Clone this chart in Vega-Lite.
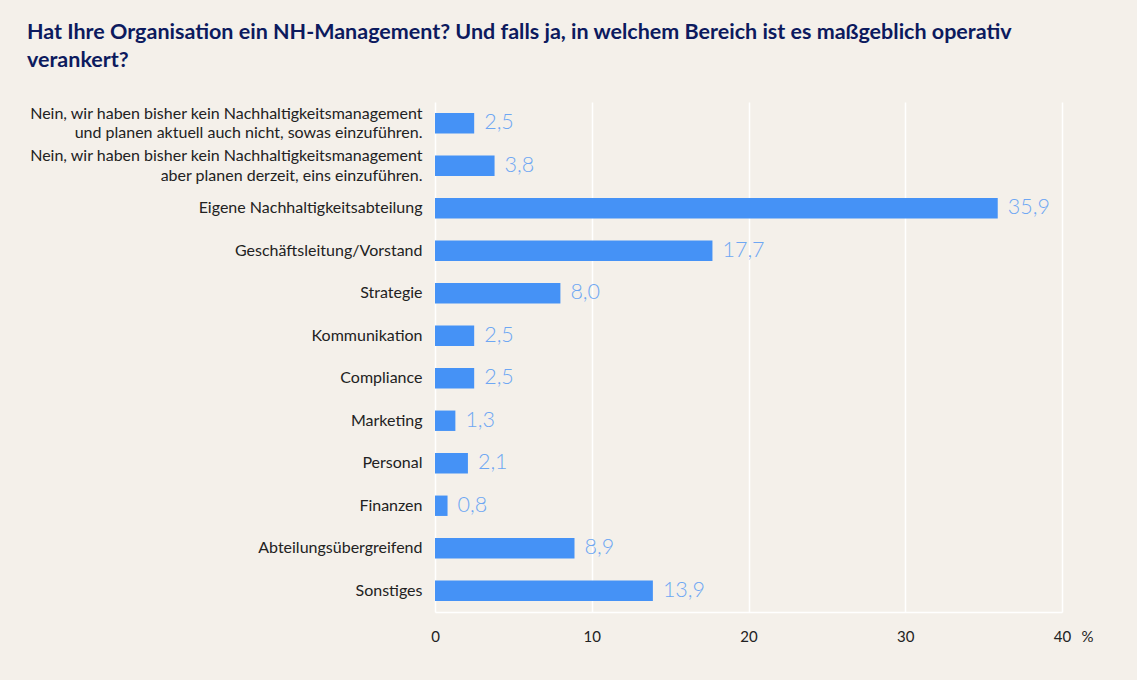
{
  "$schema": "https://vega.github.io/schema/vega-lite/v6.json",
  "autosize": "none",
  "width": 627,
  "height": 510,
  "padding": {"left": 435, "top": 102, "right": 75, "bottom": 68},
  "background": "#f4f0ea",
  "title": {
    "text": ["Hat Ihre Organisation ein NH-Management? Und falls ja, in welchem Bereich ist es maßgeblich operativ", "verankert?"],
    "anchor": "start",
    "frame": "group",
    "dx": -408,
    "offset": 31,
    "font": "Lato",
    "fontSize": 21.5,
    "fontWeight": "bold",
    "color": "#0c1a5e",
    "lineHeight": 28
  },
  "data": {
    "values": [
      {"kategorie": "Nein, wir haben bisher kein Nachhaltigkeitsmanagement|und planen aktuell auch nicht, sowas einzuführen.", "wert": 2.5},
      {"kategorie": "Nein, wir haben bisher kein Nachhaltigkeitsmanagement|aber planen derzeit, eins einzuführen.", "wert": 3.8},
      {"kategorie": "Eigene Nachhaltigkeitsabteilung", "wert": 35.9},
      {"kategorie": "Geschäftsleitung/Vorstand", "wert": 17.7},
      {"kategorie": "Strategie", "wert": 8.0},
      {"kategorie": "Kommunikation", "wert": 2.5},
      {"kategorie": "Compliance", "wert": 2.5},
      {"kategorie": "Marketing", "wert": 1.3},
      {"kategorie": "Personal", "wert": 2.1},
      {"kategorie": "Finanzen", "wert": 0.8},
      {"kategorie": "Abteilungsübergreifend", "wert": 8.9},
      {"kategorie": "Sonstiges", "wert": 13.9}
    ]
  },
  "transform": [
    {"calculate": "replace(format(datum.wert, '.1f'), '.', ',')", "as": "beschriftung"}
  ],
  "encoding": {
    "y": {
      "field": "kategorie",
      "type": "nominal",
      "sort": null,
      "scale": {"paddingInner": 0.52, "paddingOuter": 0.26},
      "axis": {
        "title": null,
        "labelExpr": "split(datum.value, '|')",
        "labelFont": "Lato",
        "labelFontSize": 16,
        "labelColor": "#222222",
        "labelLineHeight": 19.5,
        "labelOffset": {"condition": {"test": "indexof(datum.value, '|') >= 0", "value": -9.75}, "value": 0},
        "labelPadding": 13,
        "labelLimit": 500,
        "ticks": false,
        "domain": false,
        "grid": false
      }
    },
    "x": {
      "field": "wert",
      "type": "quantitative",
      "scale": {"domain": [0, 40]},
      "axis": {
        "values": [0, 10, 20, 30, 40],
        "labelFlush": false,
        "title": "%",
        "titleX": 652,
        "titleY": 24,
        "titleBaseline": "middle",
        "titleAlign": "center",
        "titleFont": "Lato",
        "titleFontSize": 15,
        "titleFontWeight": "normal",
        "titleColor": "#222222",
        "labelFont": "Lato",
        "labelFontSize": 15,
        "labelColor": "#222222",
        "labelPadding": 17,
        "ticks": false,
        "domain": true,
        "domainColor": "#ffffff",
        "domainWidth": 1.5,
        "grid": true,
        "gridColor": "#ffffff",
        "gridWidth": 1.5,
        "gridOpacity": 1
      }
    }
  },
  "layer": [
    {"mark": {"type": "bar", "color": "#4592f6"}},
    {
      "mark": {"type": "text", "align": "left", "baseline": "middle", "dx": 10, "font": "Lato", "fontSize": 21.5, "fontWeight": 300, "color": "#6ea7f3"},
      "encoding": {"text": {"field": "beschriftung"}}
    }
  ],
  "config": {"view": {"stroke": null}}
}
